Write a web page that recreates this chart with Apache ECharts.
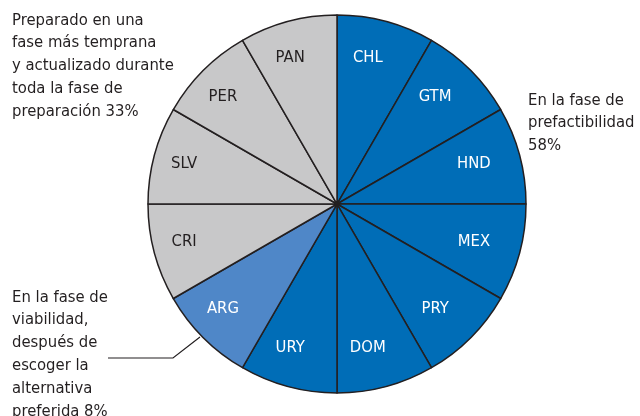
<!DOCTYPE html>
<html>
<head>
<meta charset="utf-8">
<script src="https://cdn.jsdelivr.net/npm/echarts@6/dist/echarts.min.js"></script>
<style>
html,body{margin:0;padding:0;background:#fff;}
#chart{width:640px;height:416px;}
</style>
</head>
<body>
<div id="chart"></div>
<script>
// slices, clockwise from 12 o'clock
const countries = ['CHL','GTM','HND','MEX','PRY','DOM','URY','ARG','CRI','SLV','PER','PAN'];
const values = [1,1,1,1,1,1,1,1,1,1,1,1];
// phase of each country: 0 prefactibilidad, 1 viabilidad, 2 temprana
const phase = [0,0,0,0,0,0,0,1,2,2,2,2];
const phaseColors = ['#006DB7','#4F87C8','#C8C8C9'];
const labelColors = ['#ffffff','#ffffff','#231F20'];

const font = '"Liberation Sans Narrow","DejaVu Sans Condensed",sans-serif';
const textColor = '#231F20';

let chart = echarts.init(document.getElementById('chart'));

let pieData = countries.map(function(c, i){
  return {name: c, value: values[i], itemStyle: {color: phaseColors[phase[i]]}};
});
let labelData = countries.map(function(c, i){
  return {name: c, value: values[i], label: {color: labelColors[phase[i]]}};
});

function textBlock(x, y, lines){
  return {
    type: 'text',
    left: x,
    top: y,
    silent: true,
    style: {
      text: lines.join('\n'),
      font: '16.5px ' + font,
      lineHeight: 22.8,
      fill: textColor
    }
  };
}

let option = {
  animation: false,
  series: [
    {
      type: 'pie',
      center: [337, 204],
      radius: [0, 189],
      startAngle: 90,
      clockwise: true,
      silent: true,
      label: {show: false},
      labelLine: {show: false},
      itemStyle: {borderColor: '#231F20', borderWidth: 1.5},
      data: pieData
    },
    {
      // label carrier only, nudged a bit left like the original
      type: 'pie',
      center: [329, 203],
      radius: [104, 190],
      startAngle: 90,
      clockwise: true,
      silent: true,
      itemStyle: {color: 'rgba(0,0,0,0)', borderWidth: 0},
      label: {
        show: true,
        position: 'inside',
        formatter: '{b}',
        fontFamily: font,
        fontSize: 16.5
      },
      labelLine: {show: false},
      data: labelData
    }
  ],
  graphic: [
    textBlock(12, 9, ['Preparado en una','fase más temprana','y actualizado durante','toda la fase de','preparación 33%']),
    textBlock(528, 89, ['En la fase de','prefactibilidad','58%']),
    textBlock(12, 286, ['En la fase de','viabilidad,','después de','escoger la','alternativa','preferida 8%']),
    {
      type: 'polyline',
      silent: true,
      shape: {points: [[108, 358], [173, 358], [200, 337]]},
      style: {stroke: '#231F20', lineWidth: 1.2, fill: null}
    }
  ]
};

chart.setOption(option);
</script>
</body>
</html>
